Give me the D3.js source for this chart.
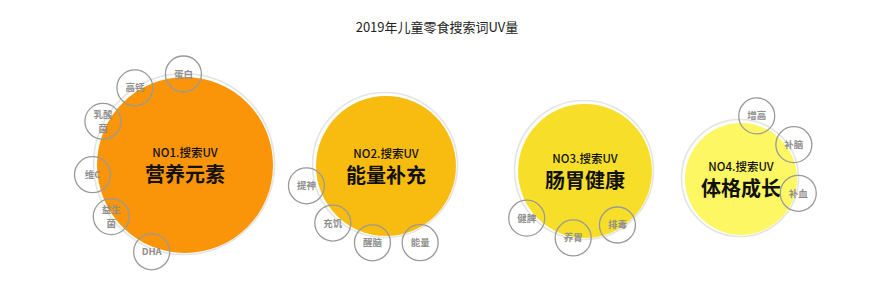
<!DOCTYPE html>
<html>
<head>
<meta charset="utf-8">
<script src="https://cdn.jsdelivr.net/npm/d3@7"></script>
<style>
  body { margin: 0; background: #fff; }
  svg { display: block; font-family: "Noto Sans CJK SC", "Noto Sans", sans-serif; }
</style>
</head>
<body>
<div id="chart"></div>
<script>
// chart data
var ranks = ["NO1", "NO2", "NO3", "NO4"];
var categories = ["营养元素", "能量补充", "肠胃健康", "体格成长"];
var uvValues = [7750, 4900, 4490, 3140];   // relative search UV (bubble area)
var keywords = [
    ["蛋白", "高钙", "乳酸\n菌", "维C", "益生\n菌", "DHA"],
    ["提神", "充饥", "醒脑", "能量"],
    ["健脾", "养胃", "排毒"],
    ["增高", "补脑", "补血"]
];
var colors = ["#FA9408", "#F8BB0F", "#F7DF29", "#FCF763"];

// layout of the small keyword bubbles: angle (deg, 0 = right, clockwise) and gap from the edge
var kwAngles = [
    [-91, -123, -152, 174, 145, 111],
    [166, 133, 100, 66],
    [141, 100, 59],
    [-76, -33, 14]
];
var kwGaps = [
    [3, 4, 5, 5, 2, 5],
    [12, 8, 8, 14],
    [8, 1, -4],
    [9, 7, 3]
];

function init(){
    var w = 873;
    var h = 285;

    var svg = d3.select("#chart")
        .append("svg")
        .attr("width", w)
        .attr("height", h);

    svg.append("text")
        .attr("x", 437)
        .attr("y", 32)
        .attr("text-anchor", "middle")
        .attr("font-size", 13)
        .attr("fill", "#222")
        .text("2019年儿童零食搜索词UV量");

    var rScale = d3.scaleSqrt()
        .domain([0, d3.max(uvValues)])
        .range([0, 88]);

    var xScale = d3.scaleOrdinal()
        .domain(categories)
        .range([185, 386, 585, 741]);
    var yScale = d3.scaleOrdinal()
        .domain(categories)
        .range([165, 166, 171, 179]);

    var data = categories.map(function(c, i){
        return {name: c, rank: ranks[i], uv: uvValues[i], color: colors[i], kw: keywords[i], idx: i};
    });

    var groups = svg.selectAll("g.bubble")
        .data(data)
        .enter()
        .append("g")
        .attr("class", "bubble")
        .attr("transform", function(d){
            return "translate(" + xScale(d.name) + "," + yScale(d.name) + ")";
        });

    // faint sketchy outer ring
    groups.append("circle")
        .attr("cx", -1)
        .attr("cy", -1)
        .attr("r", function(d){ return rScale(d.uv) + 2.5; })
        .attr("fill", "none")
        .attr("stroke", "#e4e4e4")
        .attr("stroke-width", 1.6);

    groups.append("circle")
        .attr("r", function(d){ return rScale(d.uv); })
        .attr("fill", function(d){ return d.color; });

    groups.append("text")
        .attr("y", -8)
        .attr("text-anchor", "middle")
        .attr("font-size", 11.5)
        .attr("font-weight", 500)
        .attr("fill", "#111")
        .text(function(d){ return d.rank + ".搜索UV"; });

    groups.append("text")
        .attr("y", 17)
        .attr("text-anchor", "middle")
        .attr("font-size", 20)
        .attr("font-weight", "bold")
        .attr("fill", "#111")
        .text(function(d){ return d.name; });

    // keyword bubbles
    groups.each(function(d){
        var g = d3.select(this);
        var r = rScale(d.uv);
        var kw = g.selectAll("g.kw")
            .data(d.kw.map(function(k, j){
                var a = kwAngles[d.idx][j] * Math.PI / 180;
                var dist = r + kwGaps[d.idx][j];
                return {label: k, x: dist * Math.cos(a), y: dist * Math.sin(a)};
            }))
            .enter()
            .append("g")
            .attr("class", "kw")
            .attr("transform", function(k){ return "translate(" + k.x + "," + k.y + ")"; });

        kw.append("circle")
            .attr("r", 18)
            .attr("fill", "none")
            .attr("stroke", "#9a9a9a")
            .attr("stroke-width", 1.3);

        // one text element per line so the lines do not collide
        kw.each(function(k){
            var lines = k.label.split("\n");
            var sel = d3.select(this);
            lines.forEach(function(line, li){
                sel.append("text")
                    .attr("x", 0)
                    .attr("y", (li - (lines.length - 1) / 2) * 13.5 + 3.5)
                    .attr("text-anchor", "middle")
                    .attr("font-size", 9.5)
                    .attr("font-weight", "bold")
                    .attr("fill", "#8f8f8f")
                    .text(line);
            });
        });
    });
}

window.onload = init;
</script>
</body>
</html>
